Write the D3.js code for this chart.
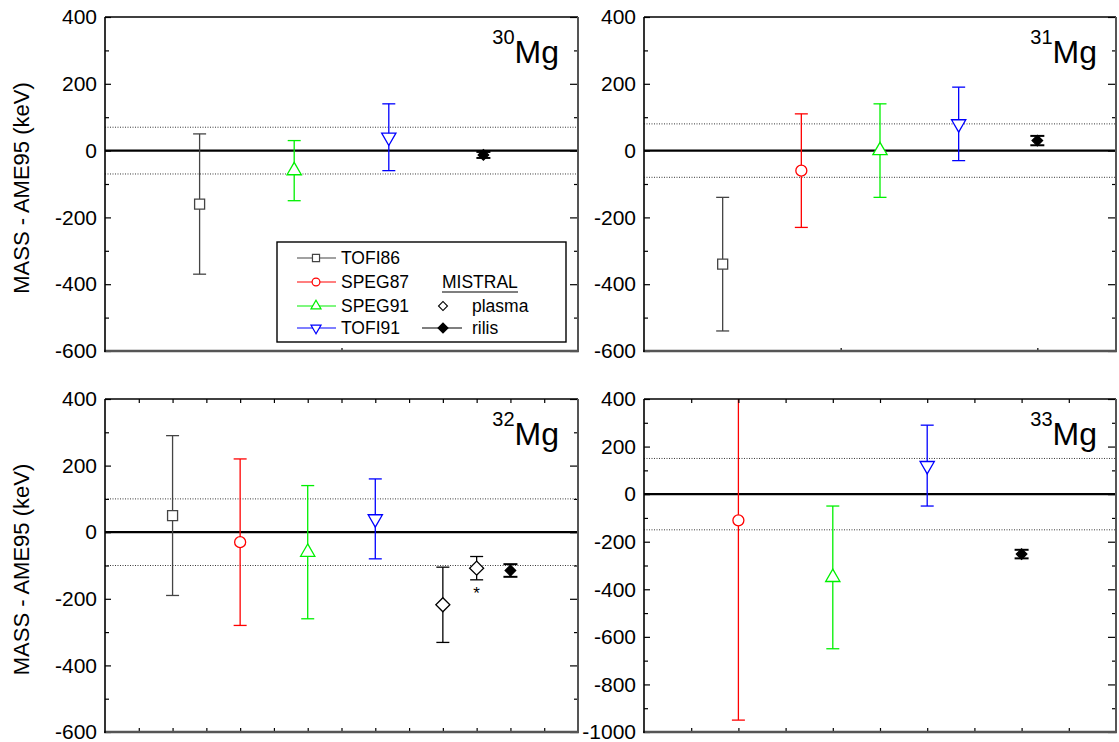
<!DOCTYPE html>
<html>
<head>
<meta charset="utf-8">
<script src="https://cdn.jsdelivr.net/npm/d3@7"></script>
<style>
  body { margin: 0; background: #fff; }
  svg { display: block; font-family: "Liberation Sans", Arial, sans-serif; }
</style>
</head>
<body>
<div id="chart"></div>
<script>
// values: mass - AME95 (keV) with 1 sigma errors
var mg30 = [
  { set: "TOFI86", x: 1, v: -160, e: 210 },
  { set: "SPEG91", x: 2, v: -60, e: 90 },
  { set: "TOFI91", x: 3, v: 40, e: 100 },
  { set: "rilis", x: 4, v: -13, e: 9 }
];
var mg31 = [
  { set: "TOFI86", x: 1, v: -340, e: 200 },
  { set: "SPEG87", x: 2, v: -60, e: 170 },
  { set: "SPEG91", x: 3, v: 0, e: 140 },
  { set: "TOFI91", x: 4, v: 80, e: 110 },
  { set: "rilis", x: 5, v: 30, e: 14 }
];
var mg32 = [
  { set: "TOFI86", x: 2, v: 50, e: 240 },
  { set: "SPEG87", x: 4, v: -30, e: 250 },
  { set: "SPEG91", x: 6, v: -60, e: 200 },
  { set: "TOFI91", x: 8, v: 40, e: 120 },
  { set: "plasma", x: 10, v: -218, e: 113 },
  { set: "plasma", x: 11, v: -108, e: 35, note: "*" },
  { set: "rilis", x: 12, v: -115, e: 19 }
];
var mg33 = [
  { set: "SPEG87", x: 1, v: -110, e: 840 },
  { set: "SPEG91", x: 2, v: -350, e: 300 },
  { set: "TOFI91", x: 3, v: 120, e: 170 },
  { set: "rilis", x: 4, v: -252, e: 18 }
];
// AME95 uncertainty bands (+/- keV)
var bands = [70, 80, 100, 150];
var isotopes = ["30", "31", "32", "33"];
var legendLeft = ["TOFI86", "SPEG87", "SPEG91", "TOFI91"];
var legendRight = ["plasma", "rilis"];

var colors = { TOFI86: "#444", SPEG87: "#ff0000", SPEG91: "#00f000", TOFI91: "#0000ff", plasma: "#000", rilis: "#000" };

var W = 1119, H = 742;
var svg = d3.select("#chart").append("svg").attr("width", W).attr("height", H);

var layout = [
  { data: mg30, x0: 105, x1: 578, y0: 17, y1: 351, xDom: [0, 5], xStep: 2.5, topTicks: false, yDom: [-600, 400] },
  { data: mg31, x0: 644, x1: 1116, y0: 17, y1: 351, xDom: [0, 6], xStep: 2.5, topTicks: false, yDom: [-600, 400] },
  { data: mg32, x0: 105, x1: 578, y0: 399, y1: 732, xDom: [0, 14], xStep: 1, topTicks: true, yDom: [-600, 400] },
  { data: mg33, x0: 644, x1: 1116, y0: 399, y1: 732, xDom: [0, 5], xStep: 0.5, topTicks: true, yDom: [-1000, 400] }
];

function symbolPath(set, big) {
  var s = big ? 1 : 0.5;
  if (set == "TOFI86") return d3.symbol(d3.symbolSquare, 100 * s)();
  if (set == "SPEG87") return d3.symbol(d3.symbolCircle, 95 * s)();
  if (set == "SPEG91" || set == "TOFI91") return d3.symbol(d3.symbolTriangle, 88 * s)();
  if (set == "plasma") return d3.symbol(d3.symbolSquare, 98 * s)();
  return d3.symbol(d3.symbolSquare, 55 * s)();
}
function symbolRotate(set) {
  if (set == "TOFI91") return 180;
  if (set == "plasma" || set == "rilis") return 45;
  return 0;
}

layout.forEach(function(p, i) {
  var g = svg.append("g");
  var x = d3.scaleLinear().domain(p.xDom).range([p.x0, p.x1]);
  var y = d3.scaleLinear().domain(p.yDom).range([p.y1, p.y0]);

  svg.append("clipPath").attr("id", "clip" + i).append("rect")
    .attr("x", p.x0).attr("y", p.y0).attr("width", p.x1 - p.x0).attr("height", p.y1 - p.y0);

  // uncertainty band and zero line
  [bands[i], -bands[i]].forEach(function(b) {
    g.append("line").attr("x1", p.x0).attr("x2", p.x1).attr("y1", y(b)).attr("y2", y(b))
      .attr("stroke", "#222").attr("stroke-width", 0.9).attr("stroke-dasharray", "1,1.5");
  });
  g.append("line").attr("x1", p.x0).attr("x2", p.x1).attr("y1", y(0)).attr("y2", y(0))
    .attr("stroke", "#000").attr("stroke-width", 2.2);

  var pts = g.append("g").attr("clip-path", "url(#clip" + i + ")");
  var pt = pts.selectAll("g.pt").data(p.data).enter().append("g").attr("class", "pt");
  pt.append("line")
    .attr("x1", function(d) { return x(d.x); }).attr("x2", function(d) { return x(d.x); })
    .attr("y1", function(d) { return y(d.v + d.e); }).attr("y2", function(d) { return y(d.v - d.e); })
    .attr("stroke", function(d) { return colors[d.set]; })
    .attr("stroke-width", function(d) { return d.set == "rilis" ? 1.8 : 1.3; });
  pt.each(function(d) {
    var sel = d3.select(this);
    var cw = d.set == "rilis" ? 7 : 6.5;
    [d.v + d.e, d.v - d.e].forEach(function(c) {
      if (c > p.yDom[1] || c < p.yDom[0]) return;
      sel.append("line").attr("x1", x(d.x) - cw).attr("x2", x(d.x) + cw).attr("y1", y(c)).attr("y2", y(c))
        .attr("stroke", colors[d.set]).attr("stroke-width", d.set == "rilis" ? 2 : 1.3);
    });
  });
  pt.append("path")
    .attr("d", function(d) { return symbolPath(d.set, true); })
    .attr("transform", function(d) { return "translate(" + x(d.x) + "," + y(d.v) + ") rotate(" + symbolRotate(d.set) + ")"; })
    .attr("fill", function(d) { return d.set == "rilis" ? "#000" : "#fff"; })
    .attr("stroke", function(d) { return colors[d.set]; })
    .attr("stroke-width", 1.3);
  pt.filter(function(d) { return d.note; }).append("text")
    .attr("x", function(d) { return x(d.x); })
    .attr("y", function(d) { return y(d.v - d.e) + 19; })
    .attr("text-anchor", "middle").attr("font-size", 17).text(function(d) { return d.note; });

  // axes
  var ymin = p.yDom[0], ymax = p.yDom[1];
  var major = d3.range(ymin, ymax + 1, 200);
  var minor = d3.range(ymin, ymax + 1, 100).filter(function(v) { return major.indexOf(v) < 0; });
  var xt = d3.range(p.xDom[0] + p.xStep, p.xDom[1], p.xStep);

  var axes = [
    g.append("g").attr("transform", "translate(" + p.x0 + ",0)")
      .call(d3.axisLeft(y).tickValues(major).tickSize(-6).tickPadding(8).tickFormat(function(d) { return String(d); })),
    g.append("g").attr("transform", "translate(" + p.x0 + ",0)")
      .call(d3.axisLeft(y).tickValues(minor).tickSize(-4).tickFormat("")),
    g.append("g").attr("transform", "translate(" + p.x1 + ",0)")
      .call(d3.axisRight(y).tickValues(major).tickSize(-8).tickFormat("")),
    g.append("g").attr("transform", "translate(" + p.x1 + ",0)")
      .call(d3.axisRight(y).tickValues(minor).tickSize(-4).tickFormat("")),
    g.append("g").attr("transform", "translate(0," + p.y1 + ")")
      .call(d3.axisBottom(x).tickValues(xt).tickSize(p.topTicks ? -4 : -3).tickFormat(""))
  ];
  if (p.topTicks) {
    axes.push(g.append("g").attr("transform", "translate(0," + p.y0 + ")")
      .call(d3.axisTop(x).tickValues(xt).tickSize(-4).tickFormat("")));
  }
  axes.forEach(function(a) {
    a.select(".domain").remove();
    a.selectAll(".tick line").attr("stroke", "#000").attr("stroke-width", 1.2);
    a.selectAll("text").attr("font-size", 21).attr("fill", "#000").attr("font-family", null);
  });

  // frame
  g.append("line").attr("x1", p.x0).attr("x2", p.x1).attr("y1", p.y0).attr("y2", p.y0).attr("stroke", "#000").attr("stroke-width", 1.4);
  g.append("line").attr("x1", p.x1).attr("x2", p.x1).attr("y1", p.y0).attr("y2", p.y1).attr("stroke", "#555").attr("stroke-width", 2);
  g.append("line").attr("x1", p.x0 - 1).attr("x2", p.x1 + 1).attr("y1", p.y1).attr("y2", p.y1).attr("stroke", "#555").attr("stroke-width", 2.6);
  g.append("line").attr("x1", p.x0).attr("x2", p.x0).attr("y1", p.y0).attr("y2", p.y1 + 1).attr("stroke", "#000").attr("stroke-width", 1.6);

  // isotope label
  var t = g.append("text").attr("x", p.x1 - 19).attr("y", p.y0 + 46).attr("text-anchor", "end").attr("fill", "#000");
  t.append("tspan").attr("font-size", 20).attr("dy", -19).text(isotopes[i]);
  t.append("tspan").attr("font-size", 32).attr("dy", 19).text("Mg");

  if (i % 2 == 0) {
    svg.append("text")
      .attr("transform", "translate(29," + ((p.y0 + p.y1) / 2 + 4) + ") rotate(-90)")
      .attr("text-anchor", "middle").attr("font-size", 22).text("MASS - AME95 (keV)");
  }
});

// legend in the 30Mg panel
var lg = svg.append("g");
lg.append("rect").attr("x", 277).attr("y", 242).attr("width", 289).attr("height", 100)
  .attr("fill", "#fff").attr("stroke", "#000").attr("stroke-width", 1.4);
var rowY = [258, 282, 306, 328];
legendLeft.forEach(function(s, k) {
  lg.append("line").attr("x1", 297).attr("x2", 336).attr("y1", rowY[k]).attr("y2", rowY[k])
    .attr("stroke", colors[s]).attr("stroke-width", 1.2);
  lg.append("path").attr("d", symbolPath(s, false))
    .attr("transform", "translate(316," + rowY[k] + ") rotate(" + symbolRotate(s) + ")")
    .attr("fill", "#fff").attr("stroke", colors[s]).attr("stroke-width", 1.2);
  lg.append("text").attr("x", 341).attr("y", rowY[k] + 6).attr("font-size", 17.5).text(s);
});
lg.append("text").attr("x", 442).attr("y", rowY[1] + 6).attr("font-size", 17.5).text("MISTRAL");
lg.append("line").attr("x1", 442).attr("x2", 518).attr("y1", rowY[1] + 10).attr("y2", rowY[1] + 10)
  .attr("stroke", "#000").attr("stroke-width", 1.2);
legendRight.forEach(function(s, k) {
  var yy = rowY[k + 2];
  if (s == "rilis") {
    lg.append("line").attr("x1", 422).attr("x2", 462).attr("y1", yy).attr("y2", yy).attr("stroke", "#000").attr("stroke-width", 1.2);
  }
  lg.append("path").attr("d", s == "rilis" ? d3.symbol(d3.symbolSquare, 50)() : d3.symbol(d3.symbolSquare, 40)())
    .attr("transform", "translate(443," + yy + ") rotate(45)")
    .attr("fill", s == "rilis" ? "#000" : "#fff").attr("stroke", "#000").attr("stroke-width", 1.1);
  lg.append("text").attr("x", 472).attr("y", yy + 6).attr("font-size", 17.5).text(s);
});
</script>
</body>
</html>
